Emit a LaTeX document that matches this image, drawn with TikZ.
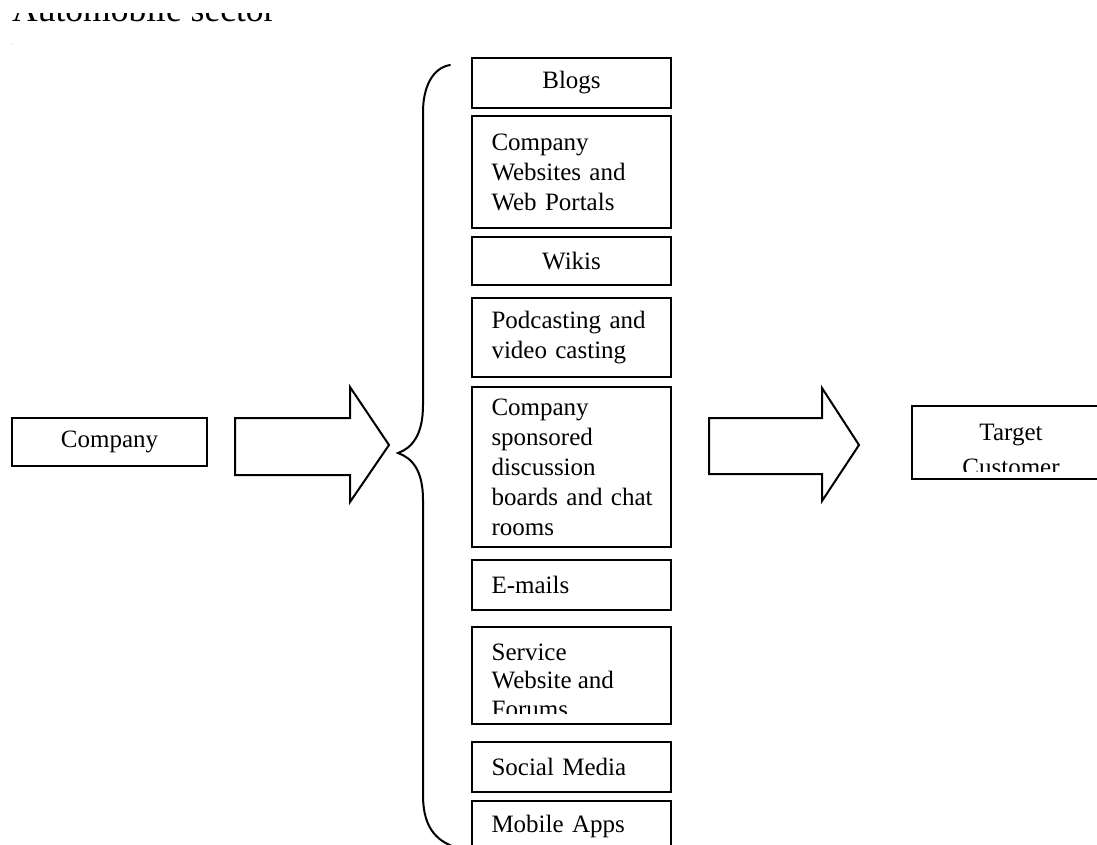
\documentclass[tikz,border=0pt]{standalone}
\usepackage{fontspec}
\setmainfont{Liberation Serif}
\usetikzlibrary{positioning}

\tikzset{
  box/.style={draw, line width=2.2pt, rectangle, inner xsep=0pt, inner ysep=0pt,
    outer sep=0pt, minimum width=199pt, font=\fontsize{25}{30}\selectfont},
  lbox/.style={box, text width=160pt, inner xsep=19.5pt, align=left},
  cbox/.style={box, align=center},
  cuttext/.style={inner sep=0pt, anchor=base},
  bigarrow/.style={draw, line width=2pt, line join=miter},
  brace/.style={draw, line width=2pt, line cap=round}
}

\begin{document}
\begin{tikzpicture}[x=1pt, y=-1pt]
\useasboundingbox (0,0) rectangle (1097,844);
\clip (0,0) rectangle (1097,844);

% heading, cut off at the top as on the page
\node[anchor=base west, inner sep=0pt, font=\fontsize{35.5}{40}\selectfont] (title) at (12,21) {Automobile sector};
\fill[white] (0,0) rectangle (1097,12.5);
\fill[gray!50] (12,44) circle (0.7pt);

% source
\node[cbox, line width=2pt, minimum width=195pt, minimum height=48pt] (company) at (109.5,442) {Company};

% channels
\node[cbox, minimum height=50pt] (blogs) at (571.5,83) {Blogs};
\node[lbox, minimum height=112pt, below=8pt of blogs] (sites) {Company\\Websites and\\Web Portals};
\node[cbox, minimum height=48pt, below=9pt of sites] (wikis) {Wikis};
\node[lbox, minimum height=79pt, below=13pt of wikis] (podcast) {Podcasting and\\video casting};
\node[lbox, minimum height=160pt, below=10pt of podcast] (boards) {Company\\sponsored\\discussion\\\mbox{boards and chat}\\rooms};
\node[lbox, minimum height=50pt, below=13pt of boards] (emails) {E-mails};
\node[box, minimum height=97pt, below=17pt of emails] (service) {};
\node[cuttext, anchor=base west, align=left, font=\fontsize{25}{28.5}\selectfont] (service-t) at (491.5,717) {Service\\Website and\\Forums};
\fill[white] ([xshift=1.2pt,yshift=1.2pt]service.south west) rectangle ([xshift=-1.2pt,yshift=10pt]service.south east);
\node[lbox, minimum height=50pt, below=18pt of service] (social) {Social Media};
\node[lbox, minimum height=50pt, below=9pt of social] (mobile) {Mobile Apps};

% target
\node[box, minimum width=198pt, minimum height=73pt] (target) at (1011,442.5) {};
\node[cuttext, align=center, font=\fontsize{25}{35}\selectfont] (target-t) at (1011,475) {Target\\Customer};
\fill[white] ([xshift=1.2pt,yshift=1.2pt]target.south west) rectangle ([xshift=-1.2pt,yshift=7pt]target.south east);

% block arrows
\draw[bigarrow] (235,418) -- (350,418) -- (350,387) -- (389,445) -- (350,502) -- (350,475) -- (235,475) -- cycle;
\draw[bigarrow] (709,418) -- (822,418) -- (822,388) -- (859,445) -- (822,501) -- (822,474) -- (709,474) -- cycle;

% brace
\draw[brace] (450,65) .. controls (432,68) and (423,88) .. (423,112) -- (423,405)
  .. controls (423,435) and (412,448) .. (398,453)
  .. controls (412,458) and (423,470) .. (423,500) -- (423,795)
  .. controls (423,822) and (432,838) .. (452,846);
\end{tikzpicture}
\end{document}
